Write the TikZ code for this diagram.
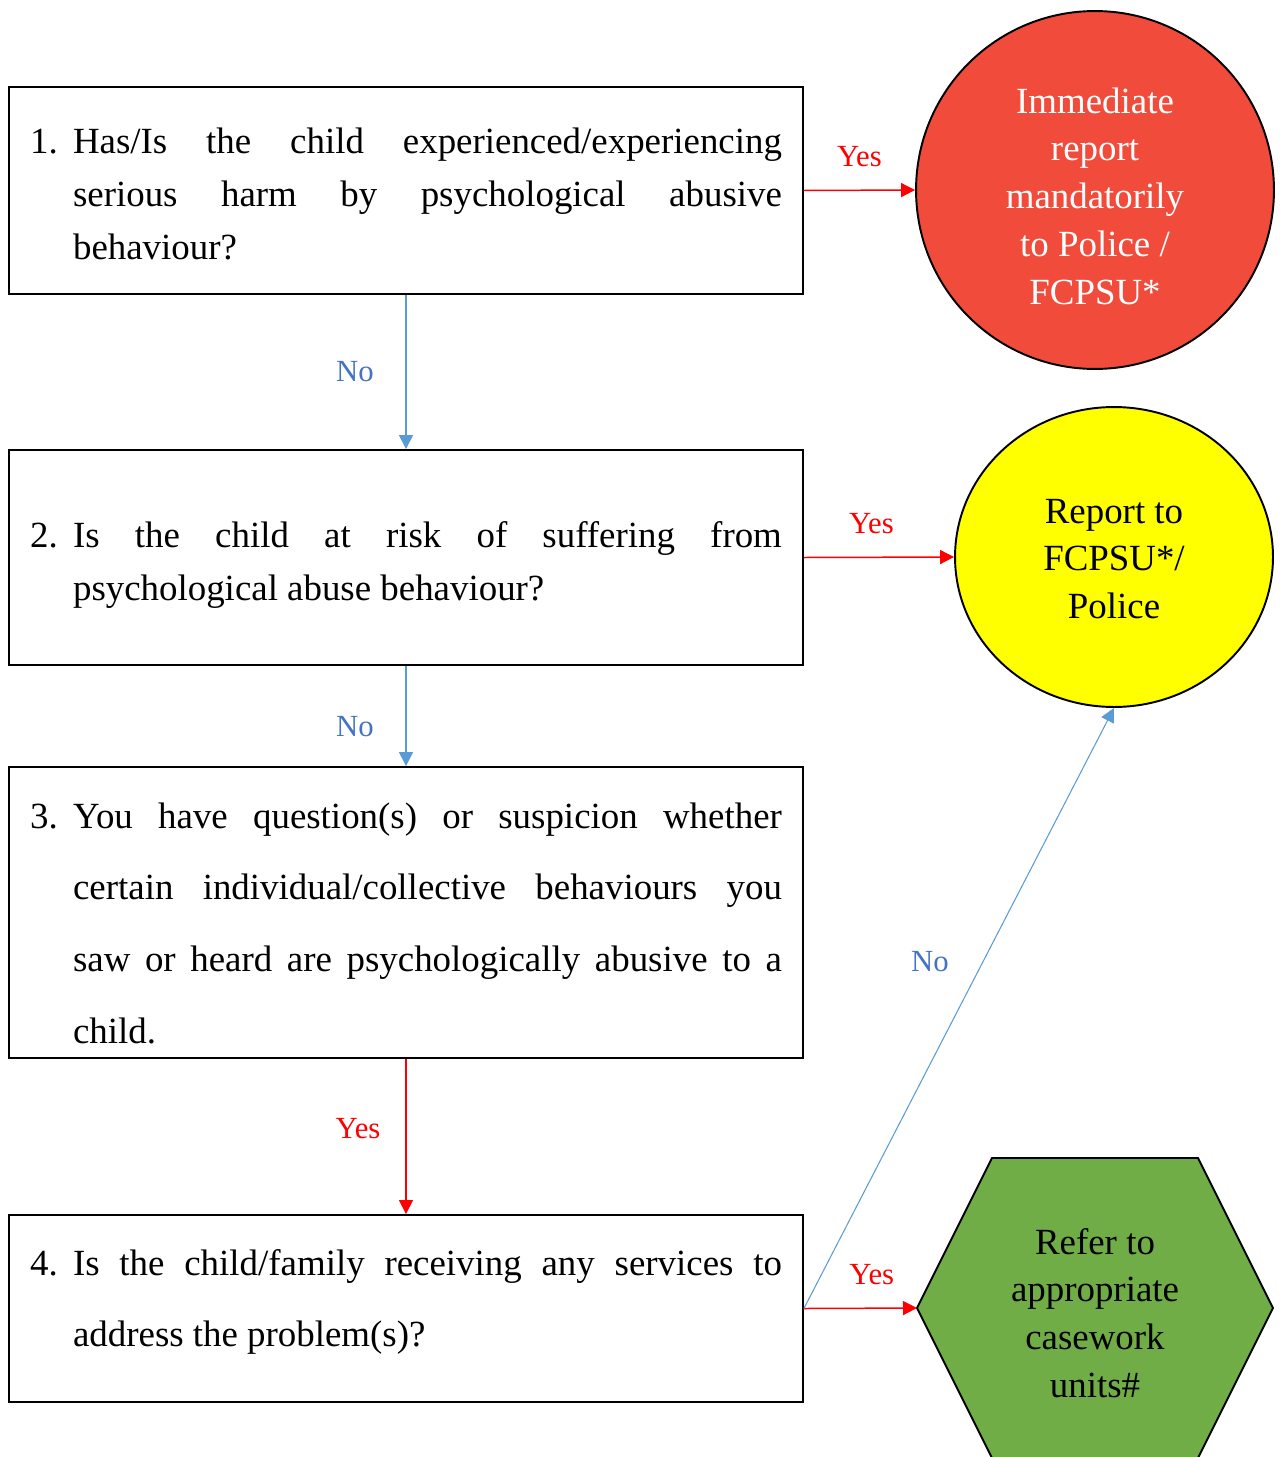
\documentclass[tikz,border=0pt]{standalone}
\usepackage{fontspec}
\setmainfont{Liberation Serif}
\usetikzlibrary{arrows.meta,shapes.geometric}
\definecolor{alertred}{RGB}{241,75,59}
\definecolor{reportyellow}{RGB}{255,255,0}
\definecolor{refergreen}{RGB}{112,173,71}
\definecolor{noblue}{RGB}{91,155,213}
\definecolor{notext}{RGB}{68,114,196}
\newcommand{\qitem}[2]{\hangindent=0.86cm\hangafter=1\noindent\makebox[0.86cm][l]{#1}#2\par}
\tikzset{
	qbox/.style={draw, line width=1.1pt, minimum width=15.88cm},
	qtext/.style={text width=15.04cm, align=justify, inner sep=0pt, font=\fontsize{21}{30}\selectfont},
	qtextwide/.style={qtext, font=\fontsize{21}{40.8}\selectfont},
	outcome/.style={draw, line width=1.1pt, align=center, inner sep=0pt, font=\fontsize{21}{27.2}\selectfont},
	yesline/.style={draw=red, line width=0.85pt, -{Triangle[length=0.28cm, width=0.28cm]}},
	noline/.style={draw=noblue, line width=0.85pt, -{Triangle[length=0.28cm, width=0.28cm]}},
	yestext/.style={text=red, font=\fontsize{17.5}{17.5}\selectfont},
	notext/.style={text=notext, font=\fontsize{17.5}{17.5}\selectfont}
}
\begin{document}
\begin{tikzpicture}[x=0.02cm, y=-0.02cm]
		\useasboundingbox (0,0) rectangle (1279,1457);

		\node[qbox, minimum height=4.14cm] (q1) at (406,190.5) {};
		\node[qtext] (q1t) at (406,194) {\qitem{1.}{Has/Is the child experienced/experiencing\linebreak serious harm by psychological abusive\linebreak behaviour?}};

		\node[qbox, minimum height=4.3cm] (q2) at (406,557.5) {};
		\node[qtext] (q2t) at (406,565) {\qitem{2.}{Is the child at risk of suffering from\linebreak psychological abuse behaviour?}};

		\node[qbox, minimum height=5.82cm] (q3) at (406,912.5) {};
		\node[qtextwide] (q3t) at (406,923) {\qitem{3.}{You have question(s) or suspicion whether\linebreak certain individual/collective behaviours you\linebreak saw or heard are psychologically abusive to a\linebreak child.}};

		\node[qbox, minimum height=3.74cm] (q4) at (406,1308.5) {};
		\node[qtextwide] (q4t) at (406,1302) {\qitem{4.}{Is the child/family receiving any services to\linebreak address the problem(s)?}};

		\node[outcome, circle, fill=alertred, minimum size=7.16cm] (police1) at (1095,190) {};
		\node[outcome, draw=none, text=white] (police1t) at (1095,196) {Immediate\\report\\mandatorily\\to Police /\\FCPSU*};

		\node[outcome, ellipse, fill=reportyellow, minimum width=6.36cm, minimum height=6cm] (police2) at (1114,557) {};
		\node[outcome, draw=none] (police2t) at (1114,559) {Report to\\FCPSU*/\\Police};

		\draw[line width=1.1pt, fill=refergreen] (917,1308)--(992,1158)--(1198,1158)--(1273,1308)--(1198,1458)--(992,1458)--cycle;
		\coordinate (refer-w) at (917,1308);
		\node[outcome, draw=none] (refer) at (1095,1313) {Refer to\\appropriate\\casework\\units\#};

		\draw[yesline] (q1.east) -- node[yestext, yshift=0.68cm] {Yes} (police1.west);
		\draw[noline] (q1.south) -- node[notext, xshift=-1.02cm] {No} (q2.north);
		\draw[yesline] (q2.east) -- node[yestext, pos=.45, yshift=0.68cm] {Yes} (police2.west);
		\draw[noline] (q2.south) -- node[notext, pos=.61, xshift=-1.02cm] {No} (q3.north);
		\draw[yesline] (q3.south) -- node[yestext, pos=.45, xshift=-0.96cm] {Yes} (q4.north);
		\draw[yesline] (q4.east) -- node[yestext, pos=.6, yshift=0.68cm] {Yes} (refer-w);
		\draw[noline, line width=0.6pt] (q4.east) -- node[notext, pos=.577, xshift=-1.06cm] {No} (police2.south);
	\end{tikzpicture}
\end{document}
